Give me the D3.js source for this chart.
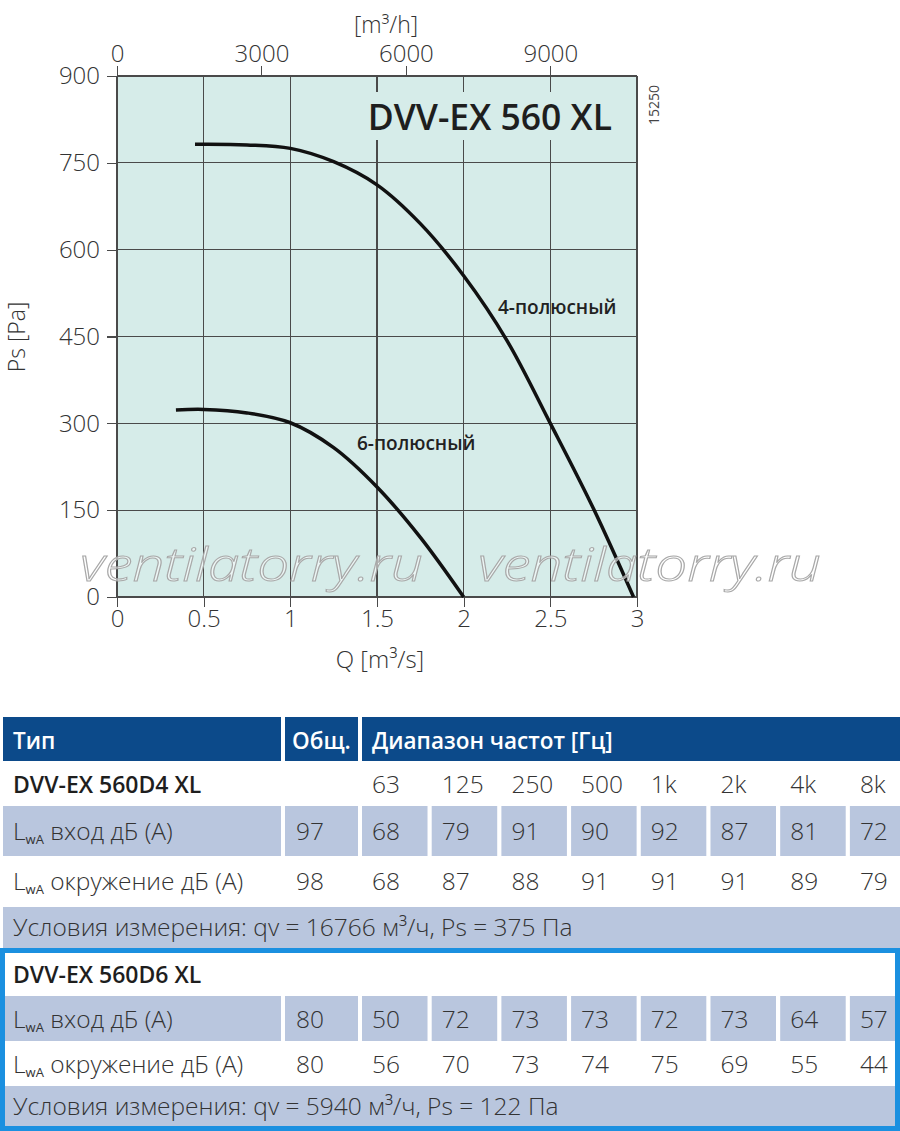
<!DOCTYPE html>
<meta charset="utf-8">
<style>
body { margin: 0; background: #fff; }
svg text { font-family: "Open Sans", sans-serif; }
.grid line { stroke: #4a4a4a; stroke-width: 1.1; shape-rendering: crispEdges; }
.axis path { display: none; }
.axis line { stroke: #4a4a4a; stroke-width: 1.1; shape-rendering: crispEdges; }
.axis text { font-size: 24px; fill: #333; font-weight: 300; font-family: "Open Sans", sans-serif; }
.val { font-size: 24.5px; fill: #333; font-weight: 300; }
</style>
<body>
<script src="https://d3js.org/d3.v7.min.js"></script>
<script>

// fan curves, Q [m3/s] vs Ps [Pa]
var curve4Q  = [0.45, 0.75, 1.0, 1.25, 1.5, 1.75, 2.0, 2.25, 2.5, 2.75, 2.98];
var curve4Ps = [782, 781, 775, 752, 712, 645, 555, 443, 300, 152, 0];
var curve6Q  = [0.34, 0.5, 0.75, 1.0, 1.25, 1.5, 1.75, 2.0];
var curve6Ps = [323, 324, 318, 301, 258, 190, 103, 0];

// axis ticks
var qTicks = [0, 0.5, 1, 1.5, 2, 2.5, 3];
var psTicks = [0, 150, 300, 450, 600, 750, 900];
var m3hTicks = [0, 3000, 6000, 9000];

// sound table
var freqBands = ["63", "125", "250", "500", "1k", "2k", "4k", "8k"];
var d4Inlet = [68, 79, 91, 90, 92, 87, 81, 72];
var d4InletTotal = 97;
var d4Surround = [68, 87, 88, 91, 91, 91, 89, 79];
var d4SurroundTotal = 98;
var d6Inlet = [50, 72, 73, 73, 72, 73, 64, 57];
var d6InletTotal = 80;
var d6Surround = [56, 70, 73, 74, 75, 69, 55, 44];
var d6SurroundTotal = 80;

var svg = d3.select("body").append("svg")
	.attr("width", 900)
	.attr("height", 1131);

var plotBg = "#d6ece9";
var x = d3.scaleLinear().domain([0, 3]).range([117, 637]);
var xh = d3.scaleLinear().domain([0, 3 * 3600]).range([117, 637]);
var y = d3.scaleLinear().domain([0, 900]).range([597, 76]);
var fmt = d3.format("~g");

// plot background
svg.append("rect")
	.attr("x", 117).attr("y", 76)
	.attr("width", 520).attr("height", 521)
	.attr("fill", plotBg);

// grid
svg.append("g")
	.attr("class", "grid")
	.selectAll("line.v")
	.data(qTicks)
	.join("line")
	.attr("x1", d => x(d)).attr("x2", d => x(d))
	.attr("y1", y(0)).attr("y2", y(900));

svg.append("g")
	.attr("class", "grid")
	.selectAll("line.h")
	.data(psTicks)
	.join("line")
	.attr("x1", x(0)).attr("x2", x(3))
	.attr("y1", d => y(d)).attr("y2", d => y(d));

// title sits on a patch of background that cuts the grid
svg.append("rect")
	.attr("x", 364).attr("y", 92)
	.attr("width", 258).attr("height", 48)
	.attr("fill", plotBg);

svg.append("text")
	.attr("x", 612).attr("y", 130)
	.attr("text-anchor", "end")
	.style("font-size", "35.5px")
	.style("font-weight", 600)
	.style("fill", "#1e1e1e")
	.text("DVV-EX 560 XL");

// axes
svg.append("g")
	.attr("class", "axis")
	.attr("transform", "translate(0," + y(0) + ")")
	.call(d3.axisBottom(x).tickValues(qTicks).tickFormat(fmt).tickSize(10).tickPadding(3).tickSizeOuter(0));

svg.append("g")
	.attr("class", "axis")
	.attr("transform", "translate(" + x(0) + ",0)")
	.call(d3.axisLeft(y).tickValues(psTicks).tickFormat(fmt).tickSize(10).tickPadding(7).tickSizeOuter(0));

svg.append("g")
	.attr("class", "axis")
	.attr("transform", "translate(0," + y(900) + ")")
	.call(d3.axisTop(xh).tickValues(m3hTicks).tickFormat(fmt).tickSize(10).tickPadding(4).tickSizeOuter(0));

// axis titles
svg.append("text")
	.attr("x", 386).attr("y", 33)
	.attr("text-anchor", "middle")
	.style("font-size", "23px").style("font-weight", 300).style("fill", "#333")
	.text("[m³/h]");

svg.append("text")
	.attr("x", 380).attr("y", 668)
	.attr("text-anchor", "middle")
	.style("font-size", "24px").style("font-weight", 300).style("fill", "#333")
	.text("Q [m³/s]");

svg.append("text")
	.attr("transform", "translate(25,337) rotate(-90)")
	.attr("text-anchor", "middle")
	.style("font-size", "23px").style("font-weight", 300).style("fill", "#333")
	.text("Ps [Pa]");

svg.append("text")
	.attr("transform", "translate(659,105) rotate(-90)")
	.attr("text-anchor", "middle")
	.style("font-size", "14px").style("fill", "#444")
	.text("15250");

// curves
var line = d3.line()
	.x(d => x(d[0]))
	.y(d => y(d[1]))
	.curve(d3.curveCatmullRom.alpha(0.5));

svg.append("path")
	.attr("d", line(d3.zip(curve4Q, curve4Ps)))
	.attr("fill", "none").attr("stroke", "#111").attr("stroke-width", 3.5);

svg.append("path")
	.attr("d", line(d3.zip(curve6Q, curve6Ps)))
	.attr("fill", "none").attr("stroke", "#111").attr("stroke-width", 3.5);

svg.append("text")
	.attr("x", 498).attr("y", 314)
	.style("font-size", "19px").style("font-weight", 600).style("fill", "#222")
	.text("4-полюсный");

svg.append("text")
	.attr("x", 357).attr("y", 450)
	.style("font-size", "19px").style("font-weight", 600).style("fill", "#222")
	.text("6-полюсный");

// watermark
[80, 478].forEach(function(wx) {
	svg.append("text")
		.attr("x", wx).attr("y", 581)
		.attr("textLength", 343).attr("lengthAdjust", "spacingAndGlyphs")
		.style("font-size", "46px").style("font-style", "italic").style("font-weight", 300)
		.style("fill", "#fff").style("fill-opacity", 0.55)
		.style("stroke", "#a8a8a8").style("stroke-width", 1)
		.text("ventilatorry.ru");
});

// ---------- table ----------
var headBlue = "#0c4a8a";
var rowBlue = "#b9c6de";
var band = d3.scaleBand().domain(freqBands).range([362, 915.4]).paddingInner(0.06);

var tbl = svg.append("g");

// header
tbl.append("rect").attr("x", 3).attr("y", 717).attr("width", 278).attr("height", 44).attr("fill", headBlue);
tbl.append("rect").attr("x", 285).attr("y", 717).attr("width", 73).attr("height", 44).attr("fill", headBlue);
tbl.append("rect").attr("x", 362).attr("y", 717).attr("width", 538).attr("height", 44).attr("fill", headBlue);

[["Тип", 13], ["Общ.", 292], ["Диапазон частот [Гц]", 372]].forEach(function(h) {
	tbl.append("text")
		.attr("x", h[1]).attr("y", 749)
		.style("font-size", "22.5px").style("font-weight", 600).style("fill", "#fff")
		.text(h[0]);
});

function modelRow(name, baseline) {
	tbl.append("text")
		.attr("x", 13).attr("y", baseline)
		.style("font-size", "23px").style("font-weight", 600).style("fill", "#1e1e1e")
		.text(name);
}

function lwaLabel(txt, baseline) {
	var t = tbl.append("text")
		.attr("x", 13).attr("y", baseline)
		.attr("class", "val");
	t.append("tspan").text("L");
	t.append("tspan").attr("dy", 4).style("font-size", "13px").style("font-weight", 400).text("wA");
	t.append("tspan").attr("dy", -4).text(" " + txt);
}

function dataRow(label, total, vals, top, h, baseline, shaded, left) {
	if (shaded) {
		tbl.append("rect").attr("x", left).attr("y", top).attr("width", 281 - left).attr("height", h).attr("fill", rowBlue);
		tbl.append("rect").attr("x", 285).attr("y", top).attr("width", 73).attr("height", h).attr("fill", rowBlue);
		tbl.selectAll(null)
			.data(freqBands)
			.enter().append("rect")
			.attr("x", d => band(d)).attr("y", top)
			.attr("width", band.bandwidth()).attr("height", h)
			.attr("fill", rowBlue);
	}
	lwaLabel(label, baseline);
	tbl.append("text").attr("class", "val").attr("x", 296).attr("y", baseline).text(total);
	tbl.selectAll(null)
		.data(vals)
		.enter().append("text")
		.attr("class", "val")
		.attr("x", (d, i) => band(freqBands[i]) + 10)
		.attr("y", baseline)
		.text(d => d);
}

function condRow(txt, top, h, baseline, left, right) {
	tbl.append("rect").attr("x", left).attr("y", top).attr("width", right - left).attr("height", h).attr("fill", rowBlue);
	tbl.append("text").attr("class", "val").attr("x", 13).attr("y", baseline).text(txt);
}

// D4 block
modelRow("DVV-EX 560D4 XL", 793);
tbl.selectAll(null)
	.data(freqBands)
	.enter().append("text")
	.attr("class", "val")
	.attr("x", d => band(d) + 10)
	.attr("y", 793)
	.text(d => d);
dataRow("вход дБ (А)", d4InletTotal, d4Inlet, 806, 50, 840, true, 3);
dataRow("окружение дБ (А)", d4SurroundTotal, d4Surround, 856, 50, 890, false, 3);
condRow("Условия измерения: qv = 16766 м³/ч, Ps = 375 Па", 907, 41, 936, 3, 900);

// D6 block
modelRow("DVV-EX 560D6 XL", 983);
dataRow("вход дБ (А)", d6InletTotal, d6Inlet, 996, 45, 1028, true, 5);
dataRow("окружение дБ (А)", d6SurroundTotal, d6Surround, 1041, 45, 1073, false, 5);
condRow("Условия измерения: qv = 5940 м³/ч, Ps = 122 Па", 1086, 40, 1115, 5, 895);

// highlight border round the D6 block
tbl.append("rect")
	.attr("x", 2.5).attr("y", 950.5)
	.attr("width", 895).attr("height", 178)
	.attr("fill", "none")
	.attr("stroke", "#1b90e0")
	.attr("stroke-width", 5);

</script>
</body>
